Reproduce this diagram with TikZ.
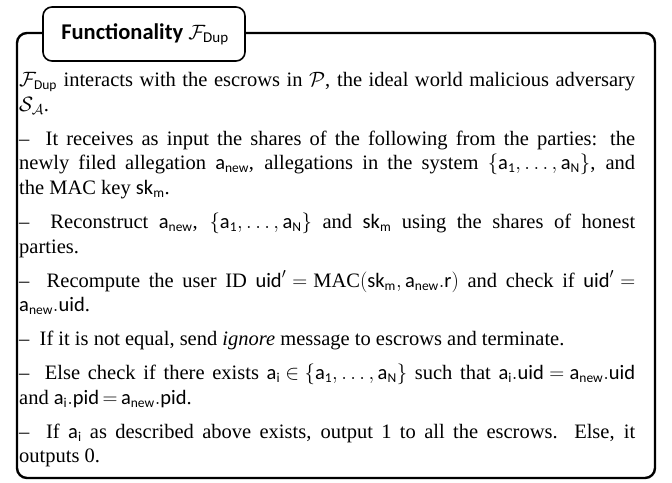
\documentclass[tikz,border=0pt]{standalone}
\usepackage{amsmath}
\usepackage{fontspec}
\setmainfont{Liberation Serif}
\setsansfont{Carlito}
\DeclareMathSizes{20.5}{20.5}{13.5}{10.5}
\DeclareMathSizes{22.5}{22.5}{15}{11}
\newcommand\sv[1]{\textsf{#1}}
\newcommand\anew{\sv{a}_{\sv{new}}}
\newcommand\allset{\{\sv{a}_{\sv{1}},\ldots,\sv{a}_{\sv{N}}\}}
\newcommand\skm{\sv{sk}_{\sv{m}}}
\newcommand\ai{\sv{a}_{\sv{i}}}
\tikzset{
  frame/.style={line width=2.4pt, rounded corners=10pt},
  titlebox/.style={draw, line width=1.6pt, rounded corners=9pt, fill=white},
  body/.style={anchor=north west, inner sep=0pt, text width=616pt, align=justify, font=\fontsize{20.5}{24.8}\selectfont},
}
\begin{document}
\begin{tikzpicture}[x=1pt,y=1pt]
\useasboundingbox (0,0) rectangle (672,-482);
\draw[frame] (17,-33) rectangle (655,-478);
\draw[titlebox] (43,-7) rectangle (245,-61);
\node[inner sep=0pt, font=\fontsize{22.5}{26}\selectfont\sffamily\bfseries] (title) at (145,-34) {Functionality $\mathcal{F}_{\textsf{\mdseries Dup}}$};
\node[body] (text) at (19,-72) {%
\setlength{\parskip}{9pt}\setlength{\parindent}{0pt}\hyphenpenalty=10000\exhyphenpenalty=10000%
\spaceskip=0.25em plus 0.3em minus 0.12em\relax
\thickmuskip=3mu plus 4mu minus 2mu\relax\medmuskip=3mu plus 2mu minus 3mu\relax
$\mathcal{F}_{\sv{Dup}}$ interacts with the escrows in $\mathcal{P}$, the ideal world malicious adversary \linebreak $\mathcal{S}_{\mathcal{A}}$.\par
-- \ It receives as input the shares of the following from the parties: the \linebreak newly filed allegation $\anew$, allegations in the system $\allset$, and \linebreak the MAC key $\skm$.\par
-- \ Reconstruct $\anew$, $\allset$ and $\skm$ using the shares of honest \linebreak parties.\par
-- \ Recompute the user ID $\sv{uid}' = \mathrm{MAC}(\skm, \anew.\sv{r})$ and check if $\sv{uid}' =$ \linebreak $\anew.\sv{uid}$.\par
-- \ If it is not equal, send \emph{ignore} message to escrows and terminate.\par
-- \ Else check if there exists $\ai \in \allset$ such that $\ai.\sv{uid} = \anew.\sv{uid}$ \linebreak and $\ai.\sv{pid} = \anew.\sv{pid}$.\par
-- \ If $\ai$ as described above exists, output 1 to all the escrows. Else, it \linebreak outputs 0.\par};
\end{tikzpicture}
\end{document}
